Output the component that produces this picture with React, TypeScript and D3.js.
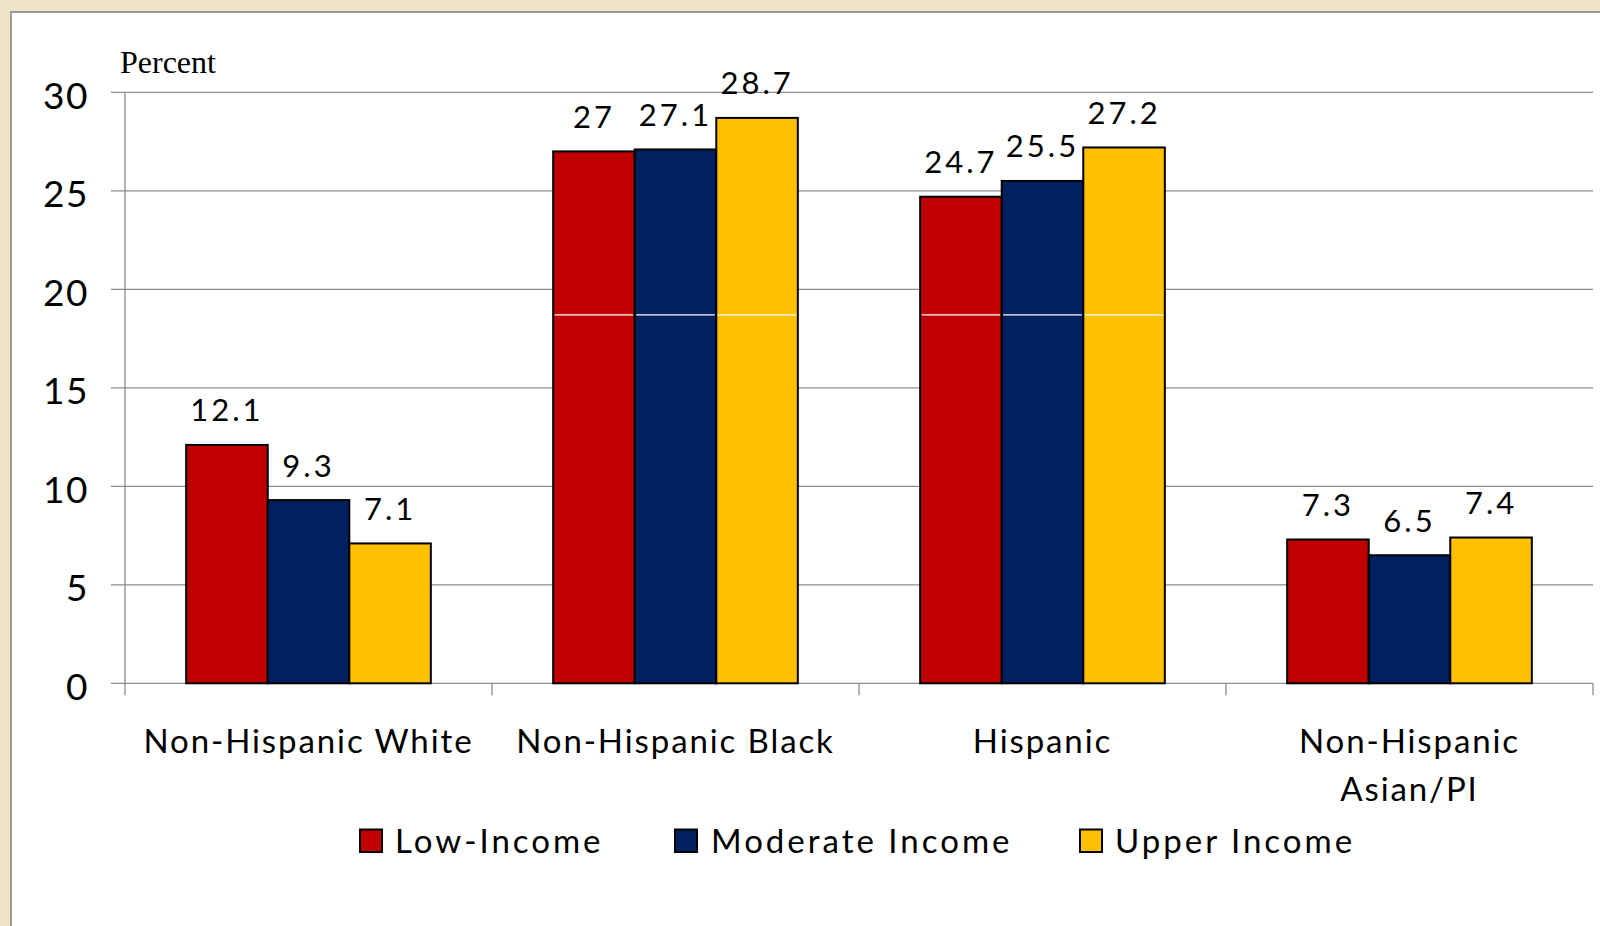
import React from "react";
import * as d3 from "d3";

// Share (%) by race/ethnicity and income group
const categories = ["Non-Hispanic White", "Non-Hispanic Black", "Hispanic", "Non-Hispanic Asian/PI"];
const categoryLines = [["Non-Hispanic White"], ["Non-Hispanic Black"], ["Hispanic"], ["Non-Hispanic", "Asian/PI"]];
const seriesNames = ["Low-Income", "Moderate Income", "Upper Income"];
const lowIncome = [12.1, 27, 24.7, 7.3];
const moderateIncome = [9.3, 27.1, 25.5, 6.5];
const upperIncome = [7.1, 28.7, 27.2, 7.4];
const yTicks = [0, 5, 10, 15, 20, 25, 30];
const sheenValue = 18.7;

const seriesValues = [lowIncome, moderateIncome, upperIncome];
const colors = ["#C00000", "#002060", "#FFC000"];

const W = 1600;
const H = 926;
const plot = { left: 125, right: 1593, top: 92.3, bottom: 683.3 };
const FONT = "Lato, 'Open Sans', sans-serif";

export default function App() {
  const x = d3.scaleBand<string>().domain(categories).range([plot.left, plot.right]).padding(0);
  const y = d3.scaleLinear().domain([0, 30]).range([plot.bottom, plot.top]);
  const bw = x.bandwidth();
  const barW = bw / 4.5;
  const inner = d3
    .scaleBand<number>()
    .domain([0, 1, 2])
    .range([0.75 * barW, bw - 0.75 * barW])
    .padding(0);

  const legendSquareX = [360, 675, 1080];
  const legendTextX = [395, 711, 1115];

  return (
    <svg
      width={W}
      height={H}
      viewBox={`0 0 ${W} ${H}`}
      style={{ position: "fixed", left: 0, top: 0, display: "block" }}
    >
      <rect x={0} y={0} width={W} height={H} fill="#EEE3C5" />
      <rect x={11} y={12} width={W} height={H} fill="#FFFFFF" stroke="#9A9A9A" strokeWidth={2} />

      {/* gridlines and y ticks */}
      {yTicks.map((t) => (
        <g key={t}>
          <line x1={111} x2={plot.right} y1={y(t)} y2={y(t)} stroke="#8C8C8C" strokeWidth={1.3} />
          <text
            x={89}
            y={y(t) + 16.5}
            textAnchor="end"
            fontFamily={FONT}
            fontSize={37}
            letterSpacing={1.5}
            fill="#000"
          >
            {t}
          </text>
        </g>
      ))}
      {/* y axis */}
      <line x1={plot.left} x2={plot.left} y1={plot.top} y2={plot.bottom + 12} stroke="#8C8C8C" strokeWidth={1.3} />
      {/* category tick marks */}
      {categories.map((c) => (
        <line
          key={c}
          x1={(x(c) as number) + bw}
          x2={(x(c) as number) + bw}
          y1={plot.bottom}
          y2={plot.bottom + 12}
          stroke="#8C8C8C"
          strokeWidth={1.3}
        />
      ))}

      <text x={120} y={73} fontFamily="'Liberation Serif', 'Times New Roman', serif" fontSize={32} fill="#000">
        Percent
      </text>

      {/* bars */}
      {categories.map((c, ci) => (
        <g key={c}>
          {seriesValues.map((vals, si) => {
            const bx = (x(c) as number) + (inner(si) as number);
            const by = y(vals[ci]);
            const bh = y(0) - by;
            return (
              <g key={si}>
                <rect x={bx} y={by} width={inner.bandwidth()} height={bh} fill={colors[si]} stroke="#000" strokeWidth={2} />
                {vals[ci] > sheenValue && (
                  <line
                    x1={bx + 1.5}
                    x2={bx + inner.bandwidth() - 1.5}
                    y1={y(sheenValue)}
                    y2={y(sheenValue)}
                    stroke="#FFFFFF"
                    strokeWidth={1.2}
                  />
                )}
              </g>
            );
          })}
        </g>
      ))}

      {/* value labels */}
      {categories.map((c, ci) =>
        seriesValues.map((vals, si) => (
          <text
            key={`${c}-${si}`}
            x={(x(c) as number) + (inner(si) as number) + inner.bandwidth() / 2}
            y={y(vals[ci]) - 23.5}
            textAnchor="middle"
            fontFamily={FONT}
            fontSize={31}
            letterSpacing={3}
            fill="#000"
          >
            {String(vals[ci])}
          </text>
        ))
      )}

      {/* category labels */}
      {categories.map((c, ci) => (
        <text
          key={c}
          x={(x(c) as number) + bw / 2}
          y={753}
          textAnchor="middle"
          fontFamily={FONT}
          fontSize={33}
          letterSpacing={1.9}
          fill="#000"
        >
          {categoryLines[ci].map((line, li) => (
            <tspan key={li} x={(x(c) as number) + bw / 2} dy={li === 0 ? 0 : 48}>
              {line}
            </tspan>
          ))}
        </text>
      ))}

      {/* legend */}
      {seriesNames.map((name, si) => (
        <g key={name}>
          <rect x={legendSquareX[si]} y={829.5} width={22} height={22.5} fill={colors[si]} stroke="#000" strokeWidth={2} />
          <text
            x={legendTextX[si]}
            y={853}
            fontFamily={FONT}
            fontSize={33}
            letterSpacing={3}
            fill="#000"
          >
            {name}
          </text>
        </g>
      ))}
    </svg>
  );
}
